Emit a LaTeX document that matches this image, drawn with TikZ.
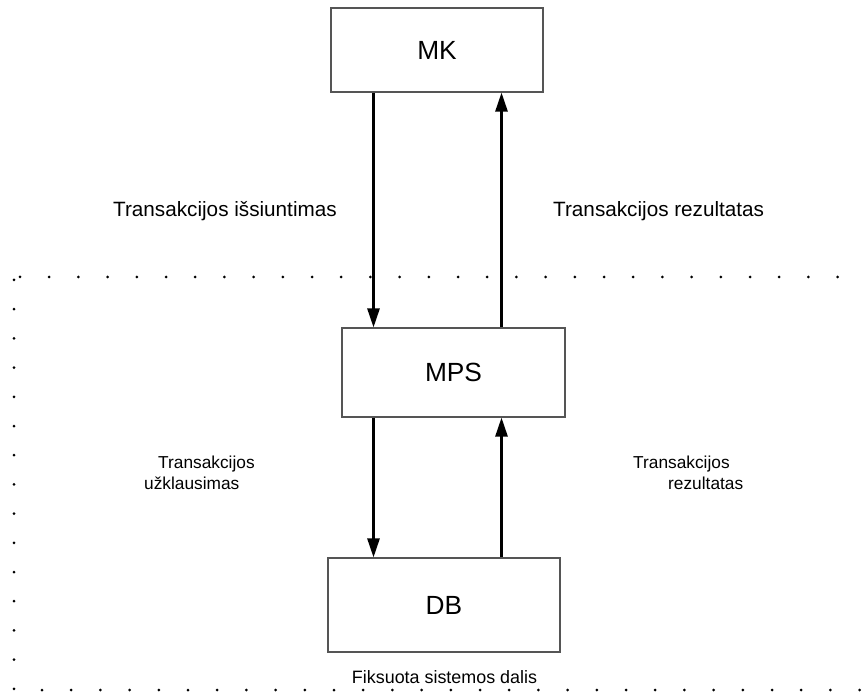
\documentclass[tikz,border=0pt]{standalone}
\usepackage{fontspec}
\setmainfont{Liberation Sans}
\usetikzlibrary{arrows.meta,positioning}
\definecolor{BoxEdge}{HTML}{555555}

\begin{document}
\begin{tikzpicture}[
  x=1pt, y=-1pt,
  >={Triangle[length=19pt, width=12pt]},
  unit/.style  = {draw=BoxEdge, line width=1.1pt, fill=white, inner sep=0pt,
                  font=\fontsize{26.3}{30}\selectfont},
  lbl/.style   = {inner sep=0pt, font=\fontsize{20.7}{24}\selectfont},
  sublbl/.style= {inner sep=0pt, align=left, font=\fontsize{17.3}{21}\selectfont},
  flow/.style  = {->, line width=2.6pt},
  fence/.style = {line width=3pt, line cap=round,
                  dash pattern=on 0pt off 29.2pt}
]
\useasboundingbox (0,0) rectangle (864,692);

%% ---- fixed part of the system: dotted border --------------------------
\draw[fence] (20,277) -- (864,277);
\draw[fence] (14,280) -- (14,690) -- (864,690);

%% ---- the three units ---------------------------------------------------
\node[unit, minimum width=212pt, minimum height=84pt] (mk)  at (437,50)    {MK};
\node[unit, minimum width=223pt, minimum height=89pt] (mps) at (453.5,372.5) {MPS};
\node[unit, minimum width=232pt, minimum height=94pt] (db)  at (444,605)   {DB};

\coordinate (lx) at (373.5,0);
\coordinate (rx) at (501.5,0);

\draw[flow] (mk.south -| lx) -- (mps.north -| lx);
\draw[flow] (mps.north -| rx) -- (mk.south -| rx);
\draw[flow] (mps.south -| lx) -- (db.north -| lx);
\draw[flow] (db.north -| rx) -- (mps.south -| rx);

%% ---- labels --------------------------------------------------------------
\node[lbl, anchor=base west] (send) at (113,217) {Transakcijos išsiuntimas};
\node[lbl, anchor=base west] (back) at (553,217) {Transakcijos rezultatas};

%% base of a two-line node = baseline of its last line
\node[sublbl, anchor=base west] (ask) at (144,489)
  {\hspace*{14pt}Transakcijos\\užklausimas};
\node[sublbl, anchor=base west] (ans) at (633,489)
  {Transakcijos\\\hspace*{35pt}rezultatas};

\node[inner sep=0pt, font=\fontsize{17.9}{21}\selectfont, anchor=base]
  (fixed) at (444.5,683) {Fiksuota sistemos dalis};

\end{tikzpicture}
\end{document}
